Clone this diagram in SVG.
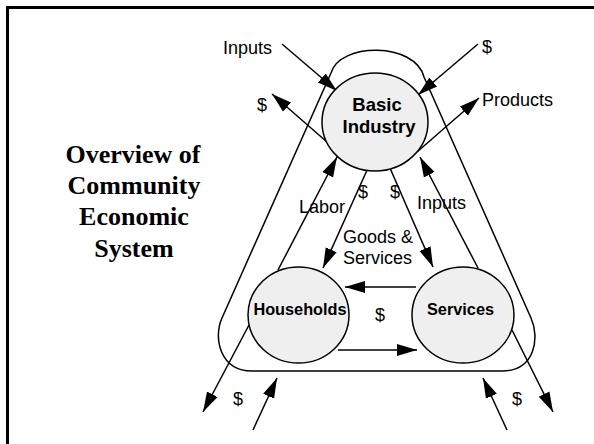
<svg xmlns="http://www.w3.org/2000/svg" width="594" height="444" viewBox="0 0 594 444">
<defs>
<marker id="ah" markerUnits="userSpaceOnUse" markerWidth="20" markerHeight="14" refX="20" refY="7" orient="auto">
<path d="M0,1 L20,7 L0,13 z" fill="#000"/>
</marker>
<style>
.ln{stroke:#000;stroke-width:1.5;fill:none}
.ar{stroke:#000;stroke-width:1.5;fill:none;marker-end:url(#ah)}
.nd{fill:#efefef;stroke:#000;stroke-width:1.5}
.nt{font-family:"Liberation Sans",Arial,sans-serif;font-weight:bold;fill:#000;text-anchor:middle}
.lb{font-family:"Liberation Sans",Arial,sans-serif;font-size:18px;fill:#000}
.tt{font-family:"Liberation Serif","Times New Roman",serif;font-weight:bold;font-size:26px;fill:#000;text-anchor:middle}
</style>
</defs>
<rect width="594" height="444" fill="#fff"/>
<path d="M7.5,444 V7.5 H594" fill="none" stroke="#000" stroke-width="3"/>
<g id="title">
<text class="tt" x="133" y="163">Overview of</text>
<text class="tt" x="134" y="194">Community</text>
<text class="tt" x="134" y="225">Economic</text>
<text class="tt" x="134" y="257">System</text>
</g>
<g id="boundary">
<path class="ln" d="M331,73 C340,42 415,42 424,77 L531,318 C540,338 535,371 502,371 L252,371 C220,371 213,338 222,318 Z"/>
</g>
<g id="connectors">
<line class="ar" x1="282" y1="44" x2="337" y2="91"/>
<line class="ar" x1="478" y1="44" x2="418" y2="95"/>
<line class="ar" x1="327" y1="142" x2="272" y2="94"/>
<line class="ar" x1="417" y1="152" x2="479" y2="98"/>
<line class="ar" x1="278" y1="270" x2="337" y2="157"/>
<line class="ar" x1="368" y1="168" x2="323" y2="268"/>
<line class="ar" x1="390" y1="168" x2="433" y2="267"/>
<line class="ar" x1="478" y1="268" x2="420" y2="157"/>
<line class="ar" x1="416" y1="287" x2="345" y2="287"/>
<line class="ar" x1="338" y1="350" x2="417" y2="350"/>
<line class="ar" x1="249" y1="325" x2="203" y2="412"/>
<line class="ar" x1="253" y1="430" x2="277" y2="378"/>
<line class="ar" x1="507" y1="430" x2="483" y2="378"/>
<line class="ar" x1="512" y1="330" x2="553" y2="412"/>
</g>
<g id="basic-industry">
<ellipse class="nd" cx="375" cy="122" rx="53" ry="49"/>
<text class="nt" x="377" y="111" font-size="18.5">Basic</text>
<text class="nt" x="379" y="133" font-size="18.5">Industry</text>
</g>
<g id="households">
<ellipse class="nd" cx="298.5" cy="315" rx="50.5" ry="48"/>
<text class="nt" x="300" y="315" font-size="16.3">Households</text>
</g>
<g id="services">
<ellipse class="nd" cx="463" cy="315" rx="51" ry="48"/>
<text class="nt" x="460.5" y="315" font-size="16.3">Services</text>
</g>
<g id="labels">
<text class="lb" x="223" y="54">Inputs</text>
<text class="lb" x="482" y="53">$</text>
<text class="lb" x="257" y="111">$</text>
<text class="lb" x="482" y="106">Products</text>
<text class="lb" x="299" y="213">Labor</text>
<text class="lb" x="417" y="209">Inputs</text>
<text class="lb" x="358" y="198">$</text>
<text class="lb" x="390" y="198">$</text>
<text class="lb" x="343" y="243">Goods &amp;</text>
<text class="lb" x="343" y="264">Services</text>
<text class="lb" x="375" y="321">$</text>
<text class="lb" x="233" y="405">$</text>
<text class="lb" x="512" y="405">$</text>
</g>
</svg>
